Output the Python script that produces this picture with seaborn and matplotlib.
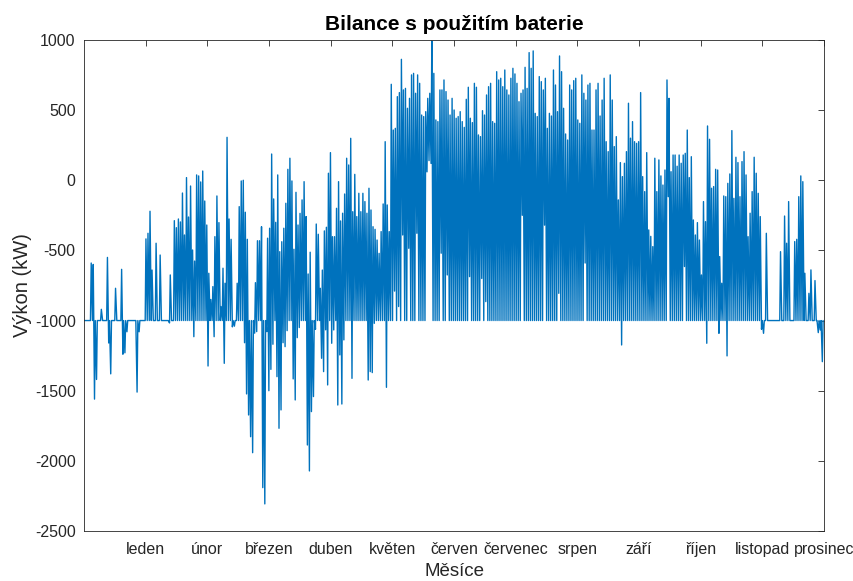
import numpy as np
import pandas as pd
import matplotlib
matplotlib.use("Agg")
import matplotlib.pyplot as plt
import seaborn as sns

# ---------------- data (kW) ----------------
B = -1000  # battery-limited floor seen as the flat line

months = ["leden", "únor", "březen", "duben", "květen", "červen",
          "červenec", "srpen", "září", "říjen", "listopad", "prosinec"]

# daily peak values per month
jan_max = [B, B, B, -590, -600, B, B, B, -920, B, B, -550, B, B, B, -770,
           B, B, -635, B, B, B, B, B, B, B, B, B, B, B, -418]
feb_max = [-378, -221, -640, B, -449, B, -533, B, B, B, B, -675, B, -288,
           -338, -276, -297, -91, -390, 19, -262, -41, -497, -576, 38, 31,
           -12, 66]
mar_max = [-148, -319, -663, -850, -758, -402, -112, -302, -900, -627, -734,
           306, -276, -421, B, B, -734, -188, -5, 0, -228, -421, B, B, B,
           -730, -431, -431, -331, B, B]
apr_max = [-413, -342, 187, -133, -300, 38, -509, -438, -342, -164, 78, 157,
           -5, -492, -86, -319, -236, -140, -10, -259, -668, -513, B, B,
           -312, -385, -770, -640, -361, -335]
may_max = [50, 197, -402, -402, -200, -10, -290, -235, -98, 157, 109, 299,
           -224, 42, -259, -93, -224, -93, -152, -235, -57, -212, -331, -350,
           -426, -521, -366, -169, 275, -176, -366]
jun_max = [684, 358, 370, 596, 625, 862, 644, 655, 513, 584, 751, 762, 620,
           751, 691, 465, 454, 489, 584, 620, 993, 762, 430, 418, 644, 644,
           715, 632, 572, 465]
jul_max = [584, 501, 442, 454, 489, 418, 377, 577, 663, 442, 411, 691, 663,
           323, 311, 496, 465, 608, 667, 691, 418, 406, 774, 715, 727, 667,
           786, 644, 608, 727, 798]
aug_max = [758, 691, 560, 620, 644, 805, 655, 910, 798, 922, 477, 454, 739,
           703, 644, 727, 370, 477, 458, 786, 679, 489, 886, 774, 513, 330,
           287, 679, 644, 710, 727]
sep_max = [430, 406, 751, 620, 572, 679, 691, 358, 358, 644, 691, 458, 572,
           727, 275, 204, 751, 572, 240, 311, -140, 126, 26, 121, 204, 549,
           300, 418, 275, 263]
oct_max = [275, 625, 26, -81, 197, -354, -400, -473, 157, -81, 145, 31, -34,
           73, 715, 584, 61, 180, 180, 100, 180, 121, 180, 192, 358, 19, 168,
           -283, -390, -302, -426]
nov_max = [-675, -152, -295, 387, 292, -57, -45, 78, 73, -544, -734, -112,
           -117, -22, 45, 354, -129, 164, 126, -117, 133, 204, 38, -402, -235,
           -81, 164, 50, -93, -259]
dec_max = [B, B, -378, B, B, B, B, B, B, -509, B, -255, -449, -152, B, B,
           -437, -421, -117, 31, -10, -663, B, -806, -639, B, -715, B, B, B, B]

# daily lowest values per month
jan_min = [B, B, B, B, B, -1560, -1420, B, B, B, B, B, -1160, -1380, B, B,
           B, B, B, -1240, -1230, -1080, B, B, B, B, -1510, -1080, B, B, B]
feb_min = [B, B, B, B, B, B, B, B, B, B, B, -1017, B, B, B, B, B, B, B, B,
           B, B, B, -1115, B, B, B, B]
mar_min = [B, B, -1324, B, B, -1115, B, B, B, B, -1305, B, B, B, -1045,
           -1040, B, B, B, B, -1158, -1523, -1673, -1828, -1942, -1090, -1079,
           B, B, -2191, -2307]
apr_min = [-1079, -1500, -1348, -1169, B, -1400, -1768, -1637, -1158, -1186,
           -1072, B, B, -1416, -1566, -1122, -1050, B, B, B, -1887, -2072,
           -1649, -1542, -1062, B, B, -1269, -1364, -1066]
may_min = [-1459, B, -1162, -1067, B, -1602, -1245, -1595, -1138, B, B, B,
           -1412, B, B, B, B, B, B, B, -1424, -1364, -1371, -1020, B, B, B,
           B, B, -1476, B]
jun_min = [B, B, -790, B, -900, B, -390, B, B, -485, B, B, B, -378, B, B, B,
           B, 60, 140, 120, B, B, B, B, -520, B, B, -675, B]
jul_min = [B, B, B, B, B, B, B, B, B, -687, B, B, B, B, B, -700, B, -865, B,
           B, B, B, B, B, B, B, B, B, B, B, B]
aug_min = [B, B, B, B, -250, B, B, B, B, B, B, B, B, B, B, -320, B, B, B, B,
           B, B, -806, B, B, B, B, B, B, B, B]
sep_min = [B, B, B, B, -590, B, B, B, B, B, B, B, B, B, B, B, B, B, B, B, B,
           B, -1174, B, B, B, B, B, B, B]
oct_min = [B, B, B, B, B, B, B, B, B, B, B, B, B, B, B, -117, B, B, B, B, B,
           B, B, -615, B, B, B, B, B, B, B]
nov_min = [B, B, B, -1162, B, B, B, B, B, -1091, B, B, B, -1252, B, B, B, B,
           B, B, B, B, B, B, B, B, B, B, B, B]
dec_min = [-1062, -1091, B, B, B, B, B, B, B, B, B, B, B, B, B, B, B, B, B,
           B, B, B, B, B, B, B, B, B, -1086, -1067, -1293]

daily_max = (jan_max + feb_max + mar_max + apr_max + may_max + jun_max +
             jul_max + aug_max + sep_max + oct_max + nov_max + dec_max)
daily_min = (jan_min + feb_min + mar_min + apr_min + may_min + jun_min +
             jul_min + aug_min + sep_min + oct_min + nov_min + dec_min)

# ---------------- long table: night low and midday peak of each day ----------------
rows = []
for d, (lo, hi) in enumerate(zip(daily_min, daily_max)):
    rows.append((24 * d + 4, lo))
    rows.append((24 * d + 13, hi))
df = pd.DataFrame(rows, columns=["hodina", "vykon"])

# ---------------- plot ----------------
sns.set_style("white")
plt.rcParams["font.family"] = ["Liberation Sans", "DejaVu Sans"]

fig = plt.figure(figsize=(8.54, 5.81), dpi=100)
ax = fig.add_axes([0.0984, 0.0861, 0.8665, 0.8451])

sns.lineplot(data=df, x="hodina", y="vykon", color="#0072BD",
             linewidth=1.0, estimator=None, ax=ax)

ax.set_xlim(0, 8760)
ax.set_ylim(-2500, 1000)
ax.set_xticks([730 * (k + 1) for k in range(12)])
ax.set_xticklabels(months)
yt = list(range(-2500, 1001, 500))
ax.set_yticks(yt)
ax.set_yticklabels([str(v) for v in yt])

ax.tick_params(direction="in", top=True, right=True, length=4.5, width=0.6,
               colors="#262626", labelsize=11.5, pad=6)
ax.tick_params(axis="x", pad=8)
for s in ax.spines.values():
    s.set_color("#262626")
    s.set_linewidth(0.6)

ax.set_title("Bilance s použitím baterie", fontsize=15, fontweight="bold",
             color="black", pad=7)
ax.set_xlabel("Měsíce", fontsize=13.5, color="#262626", labelpad=4)
ax.set_ylabel("Výkon (kW)", fontsize=14.5, color="#262626", labelpad=2)

fig.savefig("out.png", dpi=100, facecolor="white")
